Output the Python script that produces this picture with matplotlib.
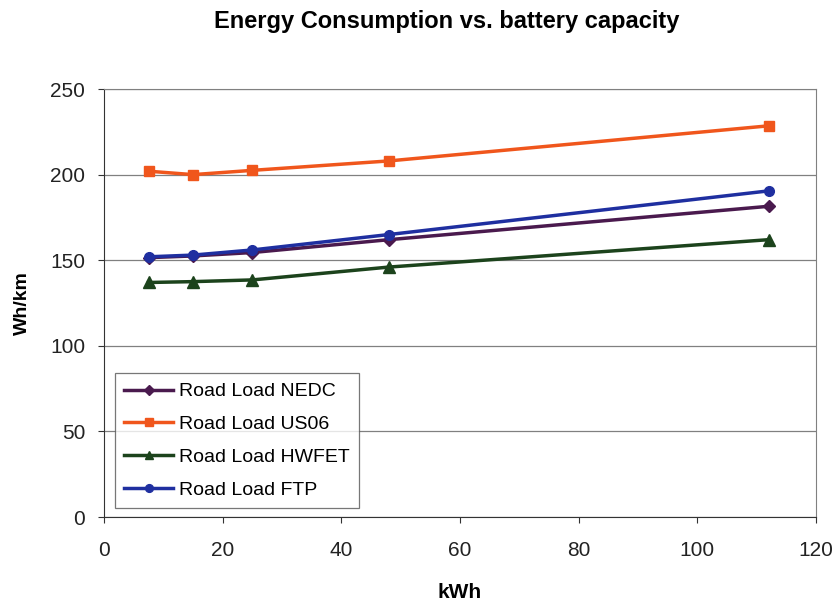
import matplotlib.pyplot as plt

plt.rcParams['font.family'] = ['Liberation Sans', 'DejaVu Sans']

# battery capacity [kWh]
capacity = [7.5, 15, 25, 48, 112]

nedc = [151.5, 152.5, 154.5, 162, 181.5]
us06 = [202, 200, 202.5, 208, 228.5]
hwfet = [137, 137.5, 138.5, 146, 162]
ftp = [152, 153, 156, 165, 190.5]

series = [
    ('Road Load NEDC', nedc, '#4a1a4e', 'D', 6),
    ('Road Load US06', us06, '#f0561c', 's', 6.5),
    ('Road Load HWFET', hwfet, '#1c431c', '^', 8),
    ('Road Load FTP', ftp, '#1f2fa0', 'o', 7),
]

fig = plt.figure(figsize=(8.39, 6.04), dpi=100)
ax = fig.add_axes([0.124, 0.144, 0.8486, 0.7086])

for name, vals, color, marker, ms in series:
    ax.plot(capacity, vals, color=color, marker=marker, markersize=ms,
            linewidth=2.5, label=name)

ax.set_xlim(0, 120)
ax.set_ylim(0, 250)
ax.set_xticks(range(0, 121, 20))
ax.set_yticks(range(0, 251, 50))
ax.yaxis.grid(True, color='#808080', linewidth=0.9)
ax.set_axisbelow(True)

for side in ['top', 'right']:
    ax.spines[side].set_color('#808080')
for side in ['left', 'bottom']:
    ax.spines[side].set_color('#333333')

ax.tick_params(axis='both', labelsize=15, direction='out', length=4.5,
               color='#333333', labelcolor='#222222')
ax.tick_params(axis='x', pad=13)
ax.tick_params(axis='y', pad=9)

fig.text(0.532, 0.965, 'Energy Consumption vs. battery capacity', fontsize=17,
         fontweight='bold', ha='center', va='center')
ax.set_xlabel('kWh', fontsize=15, fontweight='bold', labelpad=16)
ax.set_ylabel('Wh/km', fontsize=14, fontweight='bold', labelpad=14)

leg = ax.legend(loc='lower left', bbox_to_anchor=(0.015, 0.02), fontsize=14,
                frameon=True, fancybox=False, edgecolor='#555555',
                handlelength=2.5, handletextpad=0.3, labelspacing=0.78,
                borderpad=0.5, borderaxespad=0, markerscale=0.8)
leg.get_frame().set_linewidth(0.9)

plt.savefig('out.png')
